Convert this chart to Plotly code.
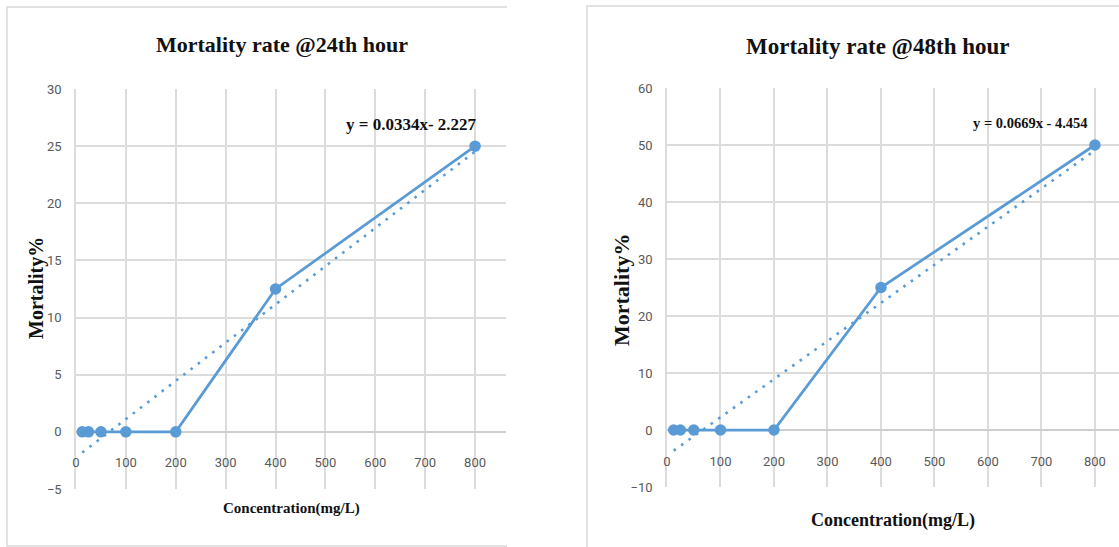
import numpy as np
import plotly.graph_objects as go

# ---- data ----
concentration = [12.5, 25, 50, 100, 200, 400, 800]
mortality_24h = [0, 0, 0, 0, 0, 12.5, 25]
mortality_48h = [0, 0, 0, 0, 0, 25, 50]
titles = ["Mortality rate @24th hour", "Mortality rate @48th hour"]
x_ticks = [0, 100, 200, 300, 400, 500, 600, 700, 800]
y_ticks_24 = [-5, 0, 5, 10, 15, 20, 25, 30]
y_ticks_48 = [-10, 0, 10, 20, 30, 40, 50, 60]
eq_24 = "y = 0.0334x- 2.227"
eq_48 = "y = 0.0669x - 4.454"

W, H = 1119, 547
BLUE = "#5B9BD5"
GRID = "#dcdcdc"
TICKC = "#595959"
SERIF = "Liberation Serif, Times New Roman, serif"
NARROW = "Liberation Sans Narrow, Arial Narrow, Roboto, sans-serif"

def px_x(p):
    return p / W

def px_y(p):
    return (H - p) / H

fig = go.Figure()

panels = [
    dict(y=mortality_24h, yt=y_ticks_24, xr=[0, 862], x0=76, x1=506, ytop=89, ybot=489,
         yr=[-5, 30], xa="x", ya="y", title=titles[0], tx=282, ty=45, eq=eq_24,
         eqx=411, eqy=125, eqs=17, xtitle_y=508, xtitle_x=291, xts=15,
         ytitle_x=36, ytitle_y=288, yts=20, ts=22),
    dict(y=mortality_48h, yt=y_ticks_48, xr=[0, 845], x0=667, x1=1119, ytop=88, ybot=487,
         yr=[-10, 60], xa="x2", ya="y2", title=titles[1], tx=877, ty=47, eq=eq_48,
         eqx=1030, eqy=123, eqs=14.5, xtitle_y=520, xtitle_x=893, xts=18,
         ytitle_x=621, ytitle_y=290, yts=22, ts=23),
]

annotations = []
for i, p in enumerate(panels):
    x = np.array(concentration, dtype=float)
    y = np.array(p["y"], dtype=float)
    slope, intercept = np.polyfit(x, y, 1)
    xt = np.array([x.min(), x.max()])
    fig.add_trace(go.Scatter(x=xt, y=slope * xt + intercept, mode="lines",
                             line=dict(color=BLUE, width=2.6, dash="2.6px,6.5px"),
                             xaxis=p["xa"], yaxis=p["ya"], showlegend=False, hoverinfo="skip"))
    fig.add_trace(go.Scatter(x=concentration, y=p["y"], mode="lines+markers",
                             line=dict(color=BLUE, width=2.75),
                             marker=dict(color=BLUE, size=11.5),
                             xaxis=p["xa"], yaxis=p["ya"], showlegend=False))

    dom_y = [px_y(p["ybot"]), px_y(p["ytop"])]
    zero_pos = dom_y[0] + (0 - p["yr"][0]) / (p["yr"][1] - p["yr"][0]) * (dom_y[1] - dom_y[0])
    suffix = "" if i == 0 else "2"
    fig.update_layout(**{
        "xaxis" + suffix: dict(domain=[px_x(p["x0"]), px_x(p["x1"])], range=p["xr"],
                               tickvals=x_ticks, showgrid=True, gridcolor=GRID, gridwidth=1.5,
                               zeroline=False, showline=False, anchor="free", position=zero_pos,
                               ticks="outside", ticklen=19, tickcolor="rgba(0,0,0,0)",
                               tickfont=dict(family=NARROW, size=13, color=TICKC),
                               automargin=False, fixedrange=True),
        "yaxis" + suffix: dict(domain=dom_y, range=p["yr"], tickvals=p["yt"],
                               showgrid=True, gridcolor=GRID, gridwidth=1.5,
                               zeroline=True, zerolinecolor="#cfcfcf", zerolinewidth=2,
                               showline=True, linecolor=GRID, linewidth=1.5,
                               anchor=p["xa"], ticks="outside", ticklen=10,
                               tickcolor="rgba(0,0,0,0)",
                               tickfont=dict(family=NARROW, size=13, color=TICKC),
                               automargin=False, fixedrange=True),
    })
    annotations += [
        dict(text="<b>" + p["title"] + "</b>", x=px_x(p["tx"]), y=px_y(p["ty"]),
             xref="paper", yref="paper", showarrow=False, xanchor="center", yanchor="middle",
             font=dict(family=SERIF, size=p["ts"], color="#111111")),
        dict(text="<b>" + p["eq"] + "</b>", x=px_x(p["eqx"]), y=px_y(p["eqy"]),
             xref="paper", yref="paper", showarrow=False, xanchor="center", yanchor="middle",
             font=dict(family=SERIF, size=p["eqs"], color="#111111")),
        dict(text="<b>Concentration(mg/L)</b>", x=px_x(p["xtitle_x"]), y=px_y(p["xtitle_y"]),
             xref="paper", yref="paper", showarrow=False, xanchor="center", yanchor="middle",
             font=dict(family=SERIF, size=p["xts"], color="#111111")),
        dict(text="<b>Mortality%</b>", x=px_x(p["ytitle_x"]), y=px_y(p["ytitle_y"]),
             xref="paper", yref="paper", showarrow=False, xanchor="center", yanchor="middle",
             textangle=-90, font=dict(family=SERIF, size=p["yts"], color="#111111")),
    ]

shapes = [
    dict(type="rect", xref="paper", yref="paper", x0=px_x(7), x1=px_x(540), y0=px_y(546), y1=px_y(7),
         line=dict(color="#d9d9d9", width=1.5), fillcolor="rgba(0,0,0,0)", layer="below"),
    dict(type="rect", xref="paper", yref="paper", x0=px_x(587), x1=px_x(1140), y0=px_y(560), y1=px_y(6),
         line=dict(color="#d9d9d9", width=1.5), fillcolor="rgba(0,0,0,0)", layer="below"),
    dict(type="rect", xref="paper", yref="paper", x0=px_x(507), x1=px_x(586), y0=px_y(547), y1=px_y(0),
         line=dict(width=0), fillcolor="white", layer="below"),
]

fig.update_layout(width=W, height=H, margin=dict(l=0, r=0, t=0, b=0),
                  paper_bgcolor="white", plot_bgcolor="white",
                  annotations=annotations, shapes=shapes, showlegend=False)

fig.write_html("out.html", config={"displayModeBar": False},
               post_script="document.body.style.margin='0';document.body.style.overflow='hidden';")
